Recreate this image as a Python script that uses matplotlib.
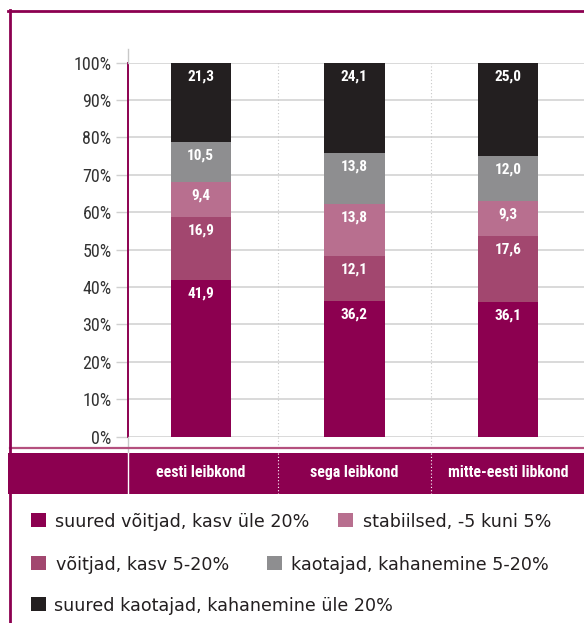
import matplotlib
matplotlib.use('Agg')
import matplotlib.pyplot as plt
from matplotlib import font_manager as fm
from matplotlib import transforms
from matplotlib.patches import Rectangle
from matplotlib.lines import Line2D
import numpy as np

# ---------------- data ----------------
categories = ['eesti leibkond', 'sega leibkond', 'mitte-eesti libkond']
series_names = ['suured võitjad, kasv üle 20%',
                'võitjad, kasv 5-20%',
                'stabiilsed, -5 kuni 5%',
                'kaotajad, kahanemine 5-20%',
                'suured kaotajad, kahanemine üle 20%']
suured_voitjad = [41.9, 36.2, 36.1]
voitjad = [16.9, 12.1, 17.6]
stabiilsed = [9.4, 13.8, 9.3]
kaotajad = [10.5, 13.8, 12.0]
suured_kaotajad = [21.3, 24.1, 25.0]
y_ticks = [0, 10, 20, 30, 40, 50, 60, 70, 80, 90, 100]
y_tick_labels = ['0%', '10%', '20%', '30%', '40%', '50%', '60%', '70%', '80%', '90%', '100%']

series_values = [suured_voitjad, voitjad, stabiilsed, kaotajad, suured_kaotajad]
colors = ['#8C0050', '#A2476F', '#B86F8F', '#8E8E90', '#231F20']
MAGENTA = '#8C0050'

# ---------------- fonts ----------------
avail = {f.name for f in fm.fontManager.ttflist}
COND = None
for name in ['Roboto Condensed', 'Liberation Sans Narrow', 'Open Sans Condensed']:
    if name in avail:
        COND = {'family': name}
        break
if COND is None:
    COND = {'family': 'DejaVu Sans', 'stretch': 'condensed'}

W, H = 584, 623
fig = plt.figure(figsize=(W / 100, H / 100), dpi=100)
fig.patch.set_facecolor('white')

def fx(x):
    return x / W

def fy(y):
    return 1 - y / H

ax_left, ax_top, ax_bottom = 127.7, 62.7, 436.7
ax = fig.add_axes([fx(ax_left), fy(ax_bottom), 1 - fx(ax_left), (ax_bottom - ax_top) / H])
ax.set_xlim(-0.476, 2.495)
ax.set_ylim(0, 100)
for s in ['top', 'right', 'bottom']:
    ax.spines[s].set_visible(False)
ax.spines['left'].set_color(MAGENTA)
ax.spines['left'].set_linewidth(1.4)
ax.spines['left'].set_zorder(5)

ax.set_yticks(y_ticks, labels=y_tick_labels, fontsize=13, color='#333333', **COND)
ax.tick_params(axis='y', length=8.6, width=1.0, color='#D0D0D0', pad=3)
ax.set_xticks([])
ax.yaxis.grid(True, color='#D3D3D3', lw=1.2)
ax.set_axisbelow(True)

x = np.arange(len(categories))
for sep in [0.5, 1.5]:
    ax.axvline(sep, color='#C8C8C8', ls=(0, (1, 2)), lw=0.8, zorder=1)

bottom = np.zeros(len(categories))
for vals, c in zip(series_values, colors):
    vals = np.array(vals)
    ax.bar(x, vals, 0.393, bottom=bottom, color=c, zorder=3)
    for xi, b, v in zip(x, bottom, vals):
        ax.annotate(f'{v:.1f}'.replace('.', ','), (xi, b + v), xytext=(0, -9.7),
                    textcoords='offset points', ha='center', va='center',
                    color='white', fontweight='bold', fontsize=11, zorder=4, **COND)
    bottom = bottom + vals

# ---------------- decorations ----------------
fig.add_artist(Line2D([fx(ax_left)] * 2, [fy(49), fy(ax_top)], color='#C8C8C8', lw=1.0))
fig.add_artist(Line2D([fx(ax_left)] * 2, [fy(ax_bottom), fy(453)], color='#C8C8C8', lw=1.0))

# bottom band
fig.add_artist(Rectangle((fx(8), fy(494)), 1 - fx(8), (494 - 453) / H,
                         transform=fig.transFigure, color=MAGENTA, lw=0, zorder=1))
fig.add_artist(Line2D([fx(10), 1], [fy(448)] * 2, color='#B4507E', lw=1.6))
fig.add_artist(Line2D([fx(ax_left)] * 2, [fy(453), fy(494)], color='white', lw=1.0, zorder=2))

blend = transforms.blended_transform_factory(ax.transData, fig.transFigure)
for sep in [0.5, 1.5]:
    fig.add_artist(Line2D([sep, sep], [fy(ax_bottom), fy(447)], transform=blend,
                          color='#C8C8C8', ls=(0, (1, 2)), lw=0.8))
    fig.add_artist(Line2D([sep, sep], [fy(453), fy(494)], transform=blend,
                          color='white', ls=(0, (1, 2)), lw=0.8, zorder=2))
for xi, cat in zip(x, categories):
    fig.text(xi, fy(477), cat, transform=blend, ha='center', va='baseline',
             color='white', fontweight='bold', fontsize=11.4, zorder=5, **COND)

# frame
fig.add_artist(Line2D([fx(9.5)] * 2, [fy(10), 0], color=MAGENTA, lw=2.0, zorder=6))
fig.add_artist(Line2D([fx(8), 1], [fy(11.3)] * 2, color=MAGENTA, lw=2.0, zorder=6))

# ---------------- legend (flow layout) ----------------
# (series index, square x, text x, baseline y)
legend_layout = [(0, 31, 55, 527), (2, 338, 363, 527),
                 (1, 31, 56, 570), (3, 267, 291, 570),
                 (4, 31, 54, 611)]
for idx, sqx, tx, by in legend_layout:
    fig.add_artist(Rectangle((fx(sqx), fy(by)), 15 / W, 14 / H, transform=fig.transFigure,
                             color=colors[idx], lw=0))
    fig.text(fx(tx), fy(by), series_names[idx], ha='left', va='baseline',
             fontsize=12.6, color='#231F20', family='DejaVu Sans')

fig.savefig('out.png', dpi=100)
